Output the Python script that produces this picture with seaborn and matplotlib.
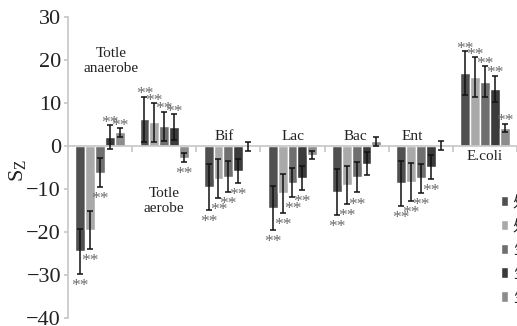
import pandas as pd
import matplotlib
matplotlib.use("Agg")
import matplotlib.pyplot as plt
import seaborn as sns

# data
groups = ["Totle\nanaerobe", "Totle\naerobe", "Bif", "Lac", "Bac", "Ent", "E.coli"]
series = ["处理1", "处理2", "生长期1", "生长期2", "生长期3"]

s1 = [-24.5, 6.2, -9.5, -14.4, -10.7, -8.7, 17.0]
s2 = [-19.5, 5.5, -7.6, -11.0, -9.1, -8.4, 16.0]
s3 = [-6.2, 4.6, -7.1, -8.5, -7.3, -7.5, 15.0]
s4 = [2.0, 4.4, -5.8, -7.5, -4.1, -4.9, 13.3]
s5 = [3.2, -2.7, -0.1, -2.1, 1.1, 0.1, 4.2]

e1 = [5.3, 5.3, 5.3, 5.2, 5.3, 5.3, 5.1]
e2 = [4.4, 4.5, 4.5, 4.5, 4.4, 4.4, 4.6]
e3 = [3.3, 3.4, 3.5, 3.3, 3.5, 3.4, 3.5]
e4 = [2.8, 3.0, 2.8, 2.8, 2.7, 2.8, 3.0]
e5 = [1.0, 1.0, 1.1, 1.0, 1.0, 1.0, 1.0]

# significance marks (**)
sig1 = [1, 1, 1, 1, 1, 1, 1]
sig2 = [1, 1, 1, 1, 1, 1, 1]
sig3 = [1, 1, 1, 1, 1, 1, 1]
sig4 = [1, 1, 1, 1, 0, 1, 1]
sig5 = [1, 1, 0, 0, 0, 0, 1]

values = [s1, s2, s3, s4, s5]
errors = [e1, e2, e3, e4, e5]
sigs = [sig1, sig2, sig3, sig4, sig5]

rows = []
for name, vals in zip(series, values):
    for g, v in zip(groups, vals):
        rows.append({"group": g, "series": name, "value": v})
df = pd.DataFrame(rows)

colors = ["#505050", "#a9a9a9", "#6f6f6f", "#3b3b3b", "#8c8c8c"]

sns.set_theme(style="white")
plt.rcParams["font.family"] = ["Liberation Serif", "DejaVu Serif"]
plt.rcParams["mathtext.fontset"] = "custom"
plt.rcParams["mathtext.rm"] = "Liberation Serif"
plt.rcParams["mathtext.it"] = "Liberation Serif:italic"

fig = plt.figure(figsize=(5.17, 3.26), dpi=100)
ax = fig.add_axes([0.1315, 0.0245, 0.8685, 0.9233])

sns.barplot(
    data=df,
    x="group",
    y="value",
    hue="series",
    palette=colors,
    width=0.77,
    errorbar=None,
    saturation=1,
    ax=ax
)

# error bars and ** marks
for cont, vals, errs, sg in zip(ax.containers, values, errors, sigs):
    for bar, v, e, s in zip(cont, vals, errs, sg):
        xc = bar.get_x() + bar.get_width() / 2
        ax.errorbar(xc, v, yerr=e, color="#111111", elinewidth=1.1,
                    capsize=2.3, capthick=1.1, fmt="none", zorder=3)
        if s:
            if v >= 0:
                ax.annotate("**", (xc, v + e), xytext=(0, -4),
                            textcoords="offset points", ha="center",
                            va="bottom", fontsize=12.5, color="#6a6a6a")
            else:
                ax.annotate("**", (xc, v - e), xytext=(0, -3),
                            textcoords="offset points", ha="center",
                            va="top", fontsize=12.5, color="#6a6a6a")

# group labels
label_x = [0.17, 1.0, 1.93, 3.01, 3.98, 4.87, 5.99]
label_y = [19.8, -12.8, 2.3, 2.3, 2.3, 2.3, -2.5]
for g, lx, ly in zip(groups, label_x, label_y):
    ax.text(lx, ly, g, ha="center", va="center", fontsize=11,
            color="#222222", linespacing=1.15)

ax.set_xlim(-0.5, 6.5)
ax.set_ylim(-40, 30)
ax.set_yticks(range(-40, 31, 10))
ax.set_xticks([x + 0.5 for x in range(7)])
ax.set_xticklabels([])
ax.set_xlabel("")
ax.set_ylabel(r"$\mathregular{S_Z}$", fontsize=16, color="#222222")
ax.yaxis.set_label_coords(-0.09, 0.49)

for side in ["top", "right"]:
    ax.spines[side].set_visible(False)
ax.spines["left"].set_color("#c8c8c8")
ax.spines["bottom"].set_color("#c8c8c8")
ax.spines["bottom"].set_position(("data", 0))
ax.tick_params(axis="y", direction="out", length=3, color="#c8c8c8",
               labelsize=16, labelcolor="#222222", pad=2, left=True)
ax.tick_params(axis="x", direction="out", length=4, color="#c8c8c8",
               bottom=True)

handles, labels = ax.get_legend_handles_labels()
ax.get_legend().remove()
fig.legend(handles, labels, loc="upper left", bbox_to_anchor=(0.955, 0.43),
           frameon=False, handlelength=0.45, handleheight=0.7,
           handletextpad=0.3, labelspacing=0.45, borderpad=0,
           prop={"family": ["Noto Sans CJK SC", "DejaVu Sans"], "size": 11})

fig.savefig("out.png", dpi=100)
